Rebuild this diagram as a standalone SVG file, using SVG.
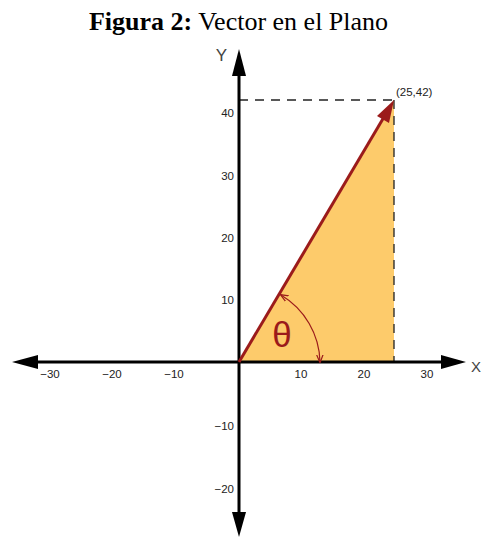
<svg xmlns="http://www.w3.org/2000/svg" width="481" height="537" viewBox="0 0 481 537">
<style>
.ax{stroke:#000;stroke-width:3;fill:none}
.tk{font-family:"Liberation Sans",Arial,sans-serif;font-size:11.5px;fill:#222}
.dash{stroke:#222;stroke-width:1.3;stroke-dasharray:9,7;fill:none}
</style>
<defs>
<marker id="sm" viewBox="0 0 10 10" refX="9" refY="5" markerWidth="8" markerHeight="8" orient="auto-start-reverse" markerUnits="userSpaceOnUse">
<path d="M0,1 L10,5 L0,9" fill="none" stroke="#9B1B1B" stroke-width="1.5"/>
</marker>
</defs>
<rect width="481" height="537" fill="#fff"/>
<text x="238.5" y="30" text-anchor="middle" font-family="'Liberation Serif','Times New Roman',serif" font-size="26" fill="#000"><tspan font-weight="bold">Figura 2:</tspan> Vector en el Plano</text>
<g id="area">
<polygon points="239,362 394,100 394,362" fill="#FDCB6B"/>
</g>
<g id="connectors">
<line class="dash" x1="239" y1="100" x2="394" y2="100"/>
<line class="dash" x1="394" y1="100" x2="394" y2="362" stroke="#555"/>
<line class="ax" x1="36" y1="362" x2="444" y2="362"/>
<line class="ax" x1="239" y1="74" x2="239" y2="514"/>
<polygon points="12,362 38,355 38,369" fill="#000"/>
<polygon points="466,362 441,355 441,369" fill="#000"/>
<polygon points="239,49 232,76 246,76" fill="#000"/>
<polygon points="239,537 232,512 246,512" fill="#000"/>
<line x1="239" y1="362" x2="384" y2="117" stroke="#9B1B1B" stroke-width="3"/>
<polygon points="394,100 377,116 389,123" fill="#9B1B1B"/>
<path d="M281,295 A80,80 0 0 1 320,362" fill="none" stroke="#9B1B1B" stroke-width="1.2" marker-start="url(#sm)" marker-end="url(#sm)"/>
</g>
<g id="labels">
<text x="396" y="96" class="tk" font-size="9.5">(25,42)</text>
<text x="221.5" y="61" text-anchor="middle" font-family="'Liberation Sans',Arial,sans-serif" font-size="17" fill="#444">Y</text>
<text x="476" y="372" text-anchor="middle" font-family="'Liberation Sans',Arial,sans-serif" font-size="15" fill="#444">X</text>
<text x="282" y="347" font-family="'Liberation Sans',Arial,sans-serif" font-size="35" fill="#9B1B1B" text-anchor="middle">θ</text>
<text class="tk" x="234" y="117" text-anchor="end">40</text>
<text class="tk" x="234" y="180" text-anchor="end">30</text>
<text class="tk" x="234" y="242" text-anchor="end">20</text>
<text class="tk" x="234" y="304" text-anchor="end">10</text>
<text class="tk" x="234" y="430" text-anchor="end">−10</text>
<text class="tk" x="234" y="493" text-anchor="end">−20</text>
<text class="tk" x="301" y="378" text-anchor="middle">10</text>
<text class="tk" x="364" y="378" text-anchor="middle">20</text>
<text class="tk" x="427" y="378" text-anchor="middle">30</text>
<text class="tk" x="50" y="378" text-anchor="middle">−30</text>
<text class="tk" x="112" y="378" text-anchor="middle">−20</text>
<text class="tk" x="174" y="378" text-anchor="middle">−10</text>
</g>
</svg>
